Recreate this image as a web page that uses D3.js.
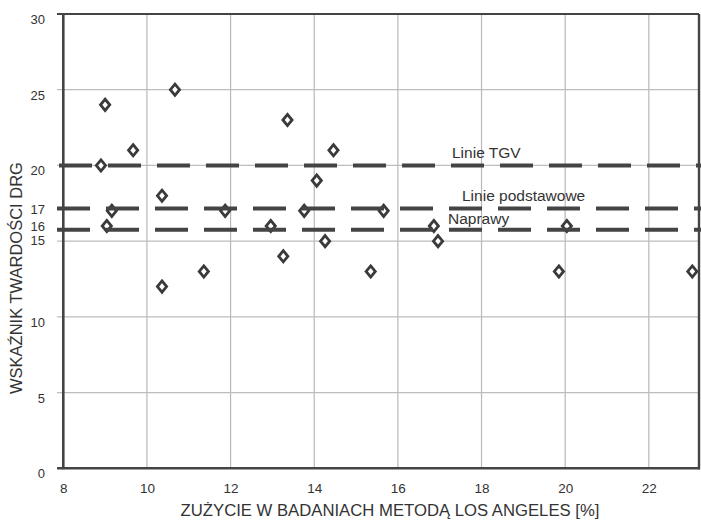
<!DOCTYPE html>
<html>
<head>
<meta charset="utf-8">
<script src="https://cdn.jsdelivr.net/npm/d3@7"></script>
<style>
  html, body { margin: 0; padding: 0; background: #fff; }
  svg { display: block; font-family: "Liberation Sans", Arial, sans-serif; }
</style>
</head>
<body>
<div id="chart"></div>
<script>
// measured points: x = wear (%), y = hardness index
const wearX = [9.0, 8.9, 9.67, 10.67, 9.16, 9.04, 10.36, 10.36, 11.36, 11.87, 12.96, 13.36,
    13.26, 13.76, 14.06, 14.46, 14.26, 15.35, 15.66, 16.86, 16.96, 20.04, 19.85, 23.04];
const hardnessY = [24, 20, 21, 25, 17, 16, 18, 12, 13, 17, 16, 23,
    14, 17, 19, 21, 15, 13, 17, 16, 15, 16, 13, 13];

const refNames = ["Linie TGV", "Linie podstawowe", "Naprawy"];
const refValues = [20, 17.15, 15.75];

const xTicks = [8, 10, 12, 14, 16, 18, 20, 22];
const yGrid = [5, 10, 15, 20, 25];
const yTickLabels = ["30", "25", "20", "17", "16", "15", "10", "5", "0"];

const W = 701, H = 521;
const plot = { left: 63.3, right: 699, top: 14, bottom: 468.3 };
const ink = "#444";

const svg = d3.select("#chart").append("svg")
    .attr("width", W)
    .attr("height", H)
    .attr("viewBox", `0 0 ${W} ${H}`);

const x = d3.scaleLinear().domain([8, 23.2]).range([plot.left, plot.right]);
const y = d3.scaleLinear().domain([0, 30]).range([plot.bottom, plot.top]);

// grid
svg.append("g").selectAll("line")
    .data(xTicks.slice(1))
    .join("line")
    .attr("x1", d => x(d)).attr("x2", d => x(d))
    .attr("y1", plot.top).attr("y2", plot.bottom)
    .attr("stroke", "#b8b8b8").attr("stroke-width", 1.2);

svg.append("g").selectAll("line")
    .data(yGrid)
    .join("line")
    .attr("x1", 57).attr("x2", plot.right)
    .attr("y1", d => y(d)).attr("y2", d => y(d))
    .attr("stroke", "#bdbdbd").attr("stroke-width", 1.2);

// frame
svg.append("line").attr("x1", 57).attr("x2", plot.right).attr("y1", plot.top).attr("y2", plot.top)
    .attr("stroke", ink).attr("stroke-width", 2.2);
svg.append("line").attr("x1", plot.right).attr("x2", plot.right).attr("y1", plot.top).attr("y2", plot.bottom + 1)
    .attr("stroke", ink).attr("stroke-width", 2.4);
svg.append("line").attr("x1", plot.left).attr("x2", plot.left).attr("y1", plot.top).attr("y2", plot.bottom + 1)
    .attr("stroke", ink).attr("stroke-width", 2.6);
svg.append("line").attr("x1", 57).attr("x2", plot.right + 1).attr("y1", plot.bottom).attr("y2", plot.bottom)
    .attr("stroke", ink).attr("stroke-width", 2.6);

// points
const diamond = "M0,-5.6L4.6,0L0,5.6L-4.6,0Z";
svg.append("g").selectAll("path")
    .data(wearX.map((v, i) => ({ x: v, y: hardnessY[i] })))
    .join("path")
    .attr("d", diamond)
    .attr("transform", d => `translate(${x(d.x)},${y(d.y)})`)
    .attr("fill", "#fff")
    .attr("stroke", "#3a3a3a")
    .attr("stroke-width", 2.8);

// reference lines (drawn over the points)
const refs = refNames.map((n, i) => ({ name: n, value: refValues[i] }));
svg.append("g").selectAll("line")
    .data(refs)
    .join("line")
    .attr("x1", 57).attr("x2", W)
    .attr("y1", d => y(d.value)).attr("y2", d => y(d.value))
    .attr("stroke", ink)
    .attr("stroke-width", 4)
    .attr("stroke-dasharray", "33 16")
    .attr("stroke-dashoffset", (d, i) => i === 0 ? -2 : 0);

const refLabelPos = [[452, 158], [462, 201], [448, 223.5]];
svg.append("g").selectAll("text")
    .data(refs)
    .join("text")
    .attr("x", (d, i) => refLabelPos[i][0])
    .attr("y", (d, i) => refLabelPos[i][1])
    .attr("font-size", "15.5px")
    .attr("fill", "#333")
    .text(d => d.name);

// y tick labels
const yLabelShift = { "17": 3.5, "16": 4.5, "15": 3.5 };
svg.append("g").selectAll("text")
    .data(yTickLabels)
    .join("text")
    .attr("x", 45)
    .attr("y", d => y(+d) + (yLabelShift[d] !== undefined ? yLabelShift[d] : 10))
    .attr("text-anchor", "end")
    .attr("font-size", "13px")
    .attr("fill", "#333")
    .text(d => d);

// x axis labels
const xAxis = d3.axisBottom(x)
    .tickValues(xTicks)
    .tickSize(0)
    .tickPadding(15)
    .tickFormat(d3.format("d"));
const gx = svg.append("g").attr("transform", `translate(0,${plot.bottom})`).call(xAxis);
gx.select(".domain").remove();
gx.selectAll("text")
    .attr("font-size", "13.5px")
    .attr("font-family", "Liberation Sans, Arial, sans-serif")
    .attr("fill", "#333");

// axis titles
svg.append("text")
    .attr("x", 390)
    .attr("y", 516)
    .attr("text-anchor", "middle")
    .attr("font-size", "16.7px")
    .attr("fill", "#333")
    .text("ZUŻYCIE W BADANIACH METODĄ LOS ANGELES [%]");

svg.append("text")
    .attr("transform", "translate(22,278) rotate(-90)")
    .attr("text-anchor", "middle")
    .attr("font-size", "16.5px")
    .attr("fill", "#333")
    .text("WSKAŹNIK TWARDOŚCI DRG");
</script>
</body>
</html>
